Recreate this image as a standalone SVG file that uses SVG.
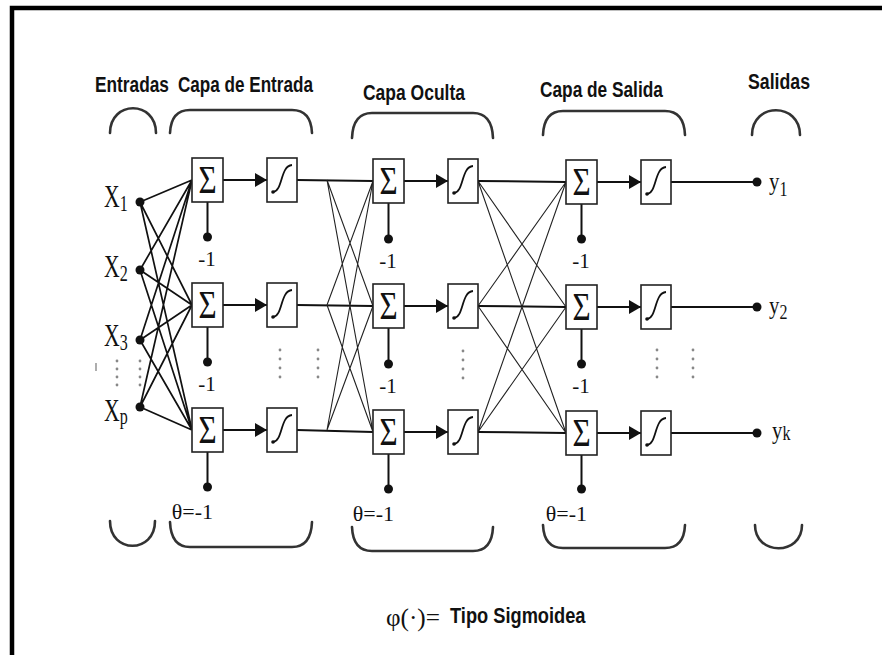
<svg xmlns="http://www.w3.org/2000/svg" width="882" height="655" viewBox="0 0 882 655">
  <style>
    .lbl { font-family: "Liberation Sans", Arial, sans-serif; font-weight: bold; font-size: 22px; fill: #111; }
    .ser { font-family: "Liberation Serif", "Times New Roman", serif; fill: #111; }
    .box { fill: #fff; stroke: #222; stroke-width: 1.6; }
    .sig { fill: none; stroke: #111; stroke-width: 1.8; }
    .main { stroke: #111; stroke-width: 2; fill: none; }
    .thin { stroke: #222; stroke-width: 1.1; fill: none; }
    .fan { stroke: #111; stroke-width: 1.7; fill: none; }
    .brk { fill: none; stroke: #333; stroke-width: 2.6; stroke-linecap: round; }
    .dot { fill: #111; }
    .ell { fill: #888; }
  </style>
  <defs>
    <marker id="arr" markerUnits="userSpaceOnUse" markerWidth="13" markerHeight="14" refX="12" refY="7" orient="auto">
      <path d="M0,0 L12,7 L0,14 z" fill="#111"/>
    </marker>
  </defs>

  <rect width="882" height="655" fill="#fff"/>
  <!-- frame -->
  <path d="M12,655 L12,8 L882,8" fill="none" stroke="#000" stroke-width="4.5"/>

  <!-- section titles (narrow bold lettering) -->
  <g id="titles">
    <text class="lbl" transform="translate(95,92) scale(0.786,1)">Entradas</text>
    <text class="lbl" transform="translate(178,92) scale(0.778,1)">Capa de Entrada</text>
    <text class="lbl" transform="translate(363,100) scale(0.795,1)">Capa Oculta</text>
    <text class="lbl" transform="translate(540,97) scale(0.786,1)">Capa de Salida</text>
    <text class="lbl" transform="translate(748,89) scale(0.805,1)">Salidas</text>
  </g>

  <!-- braces above and below each section -->
  <g id="braces">
    <path class="brk" d="M110,133 C110,100 156,100 156,133"/>
    <path class="brk" d="M170,133 Q171,110 190,110 L292,110 Q311,110 312,133"/>
    <path class="brk" d="M352,138 Q353,113 372,113 L473,113 Q492,113 493,138"/>
    <path class="brk" d="M543,135 Q544,111 563,111 L665,111 Q684,111 685,135"/>
    <path class="brk" d="M752,135 C752,102 800,102 800,135"/>

    <path class="brk" d="M110,521 C110,554 155,554 155,521"/>
    <path class="brk" d="M170,522 Q171,547 190,547 L292,547 Q311,547 312,522"/>
    <path class="brk" d="M352,527 Q353,551 372,551 L473,551 Q492,551 493,527"/>
    <path class="brk" d="M543,525 Q544,548 563,548 L665,548 Q684,548 685,525"/>
    <path class="brk" d="M755,525 C755,556 802,556 802,525"/>
  </g>

  <!-- connectors -->
  <g id="connectors">
    <!-- inputs to input layer -->
    <path class="fan" d="M140,202 L192,180 M140,202 L192,305 M140,202 L192,430
                         M140,270 L192,180 M140,270 L192,305 M140,270 L192,430
                         M140,340 L192,180 M140,340 L192,305 M140,340 L192,430
                         M140,407 L192,180 M140,407 L192,305 M140,407 L192,430"/>
    <!-- sum to activation arrows -->
    <path class="main" d="M223,180 L267,180" marker-end="url(#arr)"/>
    <path class="main" d="M223,305 L267,305" marker-end="url(#arr)"/>
    <path class="main" d="M223,430 L267,430" marker-end="url(#arr)"/>
    <path class="main" d="M404,181 L448,181" marker-end="url(#arr)"/>
    <path class="main" d="M404,306 L448,306" marker-end="url(#arr)"/>
    <path class="main" d="M404,432 L448,432" marker-end="url(#arr)"/>
    <path class="main" d="M597,182 L641,182" marker-end="url(#arr)"/>
    <path class="main" d="M597,307 L641,307" marker-end="url(#arr)"/>
    <path class="main" d="M597,433 L641,433" marker-end="url(#arr)"/>
    <!-- input layer to hidden layer -->
    <path class="main" d="M297,180 L373,181 M297,305 L373,306 M297,430 L373,432"/>
    <path class="thin" d="M327,180 L373,306 M327,180 L373,432
                          M327,305 L373,181 M327,305 L373,432
                          M327,430 L373,181 M327,430 L373,306"/>
    <!-- hidden layer to output layer -->
    <path class="main" d="M478,181 L566,182 M478,306 L566,307 M478,432 L566,433"/>
    <path class="thin" d="M478,181 L566,307 M478,181 L566,433
                          M478,306 L566,182 M478,306 L566,433
                          M478,432 L566,182 M478,432 L566,307"/>
    <!-- outputs -->
    <path class="main" d="M671,182 L757,182 M671,307 L757,307 M671,433 L757,433"/>
    <!-- bias lines -->
    <path class="main" d="M207.5,202 L207.5,237 M207.5,327 L207.5,362 M207.5,452 L207.5,487
                          M388.5,203 L388.5,238 M388.5,328 L388.5,363 M388.5,454 L388.5,489
                          M581.5,204 L581.5,239 M581.5,329 L581.5,364 M581.5,455 L581.5,490"/>
  </g>

  <!-- inputs -->
  <g id="inputs">
    <circle class="dot" cx="140" cy="202" r="4.5"/>
    <circle class="dot" cx="140" cy="270" r="4.5"/>
    <circle class="dot" cx="140" cy="340" r="4.5"/>
    <circle class="dot" cx="140" cy="407" r="4.5"/>
    <text class="ser" font-size="31" transform="translate(104,207) scale(0.7,1)">X<tspan font-size="23" dy="4">1</tspan></text>
    <text class="ser" font-size="31" transform="translate(104,277) scale(0.7,1)">X<tspan font-size="23" dy="4">2</tspan></text>
    <text class="ser" font-size="31" transform="translate(104,346) scale(0.7,1)">X<tspan font-size="23" dy="4">3</tspan></text>
    <text class="ser" font-size="31" transform="translate(104,421) scale(0.7,1)">X<tspan font-size="23" dy="3">p</tspan></text>
    <g class="ell">
      <circle cx="117" cy="361" r="1.4"/><circle cx="117" cy="369" r="1.4"/><circle cx="117" cy="377" r="1.4"/><circle cx="117" cy="385" r="1.4"/>
      <circle cx="140" cy="361" r="1.4"/><circle cx="140" cy="369" r="1.4"/><circle cx="140" cy="377" r="1.4"/><circle cx="140" cy="385" r="1.4"/>
    </g>
    <path d="M96,363 L96,371" stroke="#777" stroke-width="1.2"/>
  </g>

  <!-- input layer -->
  <g id="input-layer">
    <g id="in-1">
      <rect class="box" x="192" y="158" width="31" height="44"/>
      <text class="ser" font-size="39" text-anchor="middle" transform="translate(207.5,193) scale(0.8,1)">Σ</text>
      <rect class="box" x="267" y="158" width="30" height="44"/>
      <path class="sig" d="M273,192 C283,191 280,166 292,165"/><circle class="dot" cx="273" cy="192" r="1.8"/>
      <circle class="dot" cx="207.5" cy="237" r="4.5"/>
      <text class="ser" font-size="21" text-anchor="middle" x="207" y="266">-1</text>
    </g>
    <g id="in-2">
      <rect class="box" x="192" y="283" width="31" height="44"/>
      <text class="ser" font-size="39" text-anchor="middle" transform="translate(207.5,318) scale(0.8,1)">Σ</text>
      <rect class="box" x="267" y="283" width="30" height="44"/>
      <path class="sig" d="M273,317 C283,316 280,291 292,290"/><circle class="dot" cx="273" cy="317" r="1.8"/>
      <circle class="dot" cx="207.5" cy="362" r="4.5"/>
      <text class="ser" font-size="21" text-anchor="middle" x="207" y="391">-1</text>
    </g>
    <g id="in-3">
      <rect class="box" x="192" y="408" width="31" height="44"/>
      <text class="ser" font-size="39" text-anchor="middle" transform="translate(207.5,443) scale(0.8,1)">Σ</text>
      <rect class="box" x="267" y="408" width="30" height="44"/>
      <path class="sig" d="M273,442 C283,441 280,416 292,415"/><circle class="dot" cx="273" cy="442" r="1.8"/>
      <circle class="dot" cx="207.5" cy="487" r="4.5"/>
      <text class="ser" font-size="22" text-anchor="end" x="213" y="519">θ=-1</text>
    </g>
    <g class="ell">
      <circle cx="280" cy="350" r="1.4"/><circle cx="280" cy="359" r="1.4"/><circle cx="280" cy="368" r="1.4"/><circle cx="280" cy="377" r="1.4"/>
      <circle cx="318" cy="350" r="1.4"/><circle cx="318" cy="359" r="1.4"/><circle cx="318" cy="368" r="1.4"/><circle cx="318" cy="377" r="1.4"/>
    </g>
  </g>

  <!-- hidden layer -->
  <g id="hidden-layer">
    <g id="hid-1">
      <rect class="box" x="373" y="159" width="31" height="44"/>
      <text class="ser" font-size="39" text-anchor="middle" transform="translate(388.5,194) scale(0.8,1)">Σ</text>
      <rect class="box" x="448" y="159" width="30" height="44"/>
      <path class="sig" d="M454,193 C464,192 461,167 473,166"/><circle class="dot" cx="454" cy="193" r="1.8"/>
      <circle class="dot" cx="388.5" cy="239" r="4.5"/>
      <text class="ser" font-size="21" text-anchor="middle" x="388" y="268">-1</text>
    </g>
    <g id="hid-2">
      <rect class="box" x="373" y="284" width="31" height="44"/>
      <text class="ser" font-size="39" text-anchor="middle" transform="translate(388.5,319) scale(0.8,1)">Σ</text>
      <rect class="box" x="448" y="284" width="30" height="44"/>
      <path class="sig" d="M454,318 C464,317 461,292 473,291"/><circle class="dot" cx="454" cy="318" r="1.8"/>
      <circle class="dot" cx="388.5" cy="364" r="4.5"/>
      <text class="ser" font-size="21" text-anchor="middle" x="388" y="393">-1</text>
    </g>
    <g id="hid-3">
      <rect class="box" x="373" y="410" width="31" height="44"/>
      <text class="ser" font-size="39" text-anchor="middle" transform="translate(388.5,445) scale(0.8,1)">Σ</text>
      <rect class="box" x="448" y="410" width="30" height="44"/>
      <path class="sig" d="M454,444 C464,443 461,418 473,417"/><circle class="dot" cx="454" cy="444" r="1.8"/>
      <circle class="dot" cx="388.5" cy="489" r="4.5"/>
      <text class="ser" font-size="22" text-anchor="end" x="394" y="521">θ=-1</text>
    </g>
    <g class="ell">
      <circle cx="463" cy="351" r="1.4"/><circle cx="463" cy="360" r="1.4"/><circle cx="463" cy="369" r="1.4"/><circle cx="463" cy="378" r="1.4"/>
    </g>
  </g>

  <!-- output layer -->
  <g id="output-layer">
    <g id="out-1">
      <rect class="box" x="566" y="160" width="31" height="44"/>
      <text class="ser" font-size="39" text-anchor="middle" transform="translate(581.5,195) scale(0.8,1)">Σ</text>
      <rect class="box" x="641" y="160" width="30" height="44"/>
      <path class="sig" d="M647,194 C657,193 654,168 666,167"/><circle class="dot" cx="647" cy="194" r="1.8"/>
      <circle class="dot" cx="581.5" cy="239" r="4.5"/>
      <text class="ser" font-size="21" text-anchor="middle" x="581" y="268">-1</text>
    </g>
    <g id="out-2">
      <rect class="box" x="566" y="285" width="31" height="44"/>
      <text class="ser" font-size="39" text-anchor="middle" transform="translate(581.5,320) scale(0.8,1)">Σ</text>
      <rect class="box" x="641" y="285" width="30" height="44"/>
      <path class="sig" d="M647,319 C657,318 654,293 666,292"/><circle class="dot" cx="647" cy="319" r="1.8"/>
      <circle class="dot" cx="581.5" cy="364" r="4.5"/>
      <text class="ser" font-size="21" text-anchor="middle" x="581" y="393">-1</text>
    </g>
    <g id="out-3">
      <rect class="box" x="566" y="411" width="31" height="44"/>
      <text class="ser" font-size="39" text-anchor="middle" transform="translate(581.5,446) scale(0.8,1)">Σ</text>
      <rect class="box" x="641" y="411" width="30" height="44"/>
      <path class="sig" d="M647,445 C657,444 654,419 666,418"/><circle class="dot" cx="647" cy="445" r="1.8"/>
      <circle class="dot" cx="581.5" cy="489" r="4.5"/>
      <text class="ser" font-size="22" text-anchor="end" x="587" y="521">θ=-1</text>
    </g>
    <g class="ell">
      <circle cx="657" cy="350" r="1.4"/><circle cx="657" cy="359" r="1.4"/><circle cx="657" cy="368" r="1.4"/><circle cx="657" cy="377" r="1.4"/>
      <circle cx="693" cy="350" r="1.4"/><circle cx="693" cy="359" r="1.4"/><circle cx="693" cy="368" r="1.4"/><circle cx="693" cy="377" r="1.4"/>
    </g>
  </g>

  <!-- outputs -->
  <g id="outputs">
    <circle class="dot" cx="757" cy="182" r="4.5"/>
    <circle class="dot" cx="757" cy="307" r="4.5"/>
    <circle class="dot" cx="757" cy="433" r="4.5"/>
    <text class="ser" font-size="26" transform="translate(769,190) scale(0.8,1)">y<tspan font-size="20" dy="6">1</tspan></text>
    <text class="ser" font-size="26" transform="translate(769,314) scale(0.8,1)">y<tspan font-size="20" dy="5">2</tspan></text>
    <text class="ser" font-size="26" transform="translate(772,439) scale(0.8,1)">y<tspan font-size="20" dy="1">k</tspan></text>
  </g>

  <!-- legend -->
  <g id="legend">
    <text class="ser" font-size="26" x="386" y="626" textLength="54" lengthAdjust="spacingAndGlyphs">φ(·)=</text>
    <text class="lbl" font-size="21" transform="translate(450,623) scale(0.83,1)">Tipo Sigmoidea</text>
  </g>
</svg>
